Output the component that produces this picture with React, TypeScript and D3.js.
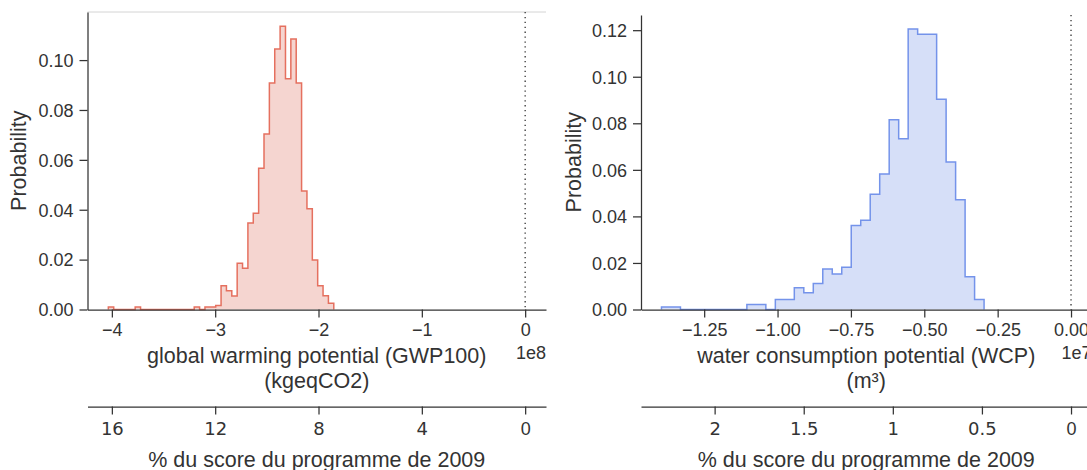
import React, { useEffect, useRef } from 'react';
import * as d3 from 'd3';

// ---- data (probability per bin) ----
const gwpBinStart = -4.034; // x 1e8 kgeqCO2
const gwpBinWidth = 0.05195;
const gwpProb = [
  0.001, 0, 0, 0, 0, 0.001, 0, 0, 0, 0, 0, 0, 0, 0, 0, 0, 0.001, 0,
  0.001, 0.001, 0.0016, 0.0095, 0.0075, 0.0054, 0.0185, 0.0165, 0.0347, 0.0386,
  0.0566, 0.0704, 0.0908, 0.1044, 0.1136, 0.0925, 0.1085, 0.0908, 0.0475, 0.0404,
  0.0198, 0.0095, 0.0055, 0.0025,
];
const gwpTicksY = [0, 0.02, 0.04, 0.06, 0.08, 0.1];
const gwpTicksX = [-4, -3, -2, -1, 0];
const gwpPctTicks = [16, 12, 8, 4, 0];
const gwpRef2009 = 25; // 1e8 units, 100 %

const wcpBinStart = -1.3955; // x 1e7 m3
const wcpBinWidth = 0.03233;
const wcpProb = [
  0.0011, 0.0011, 0, 0, 0, 0, 0, 0, 0, 0.0022, 0.0022, 0, 0.0043, 0.0043, 0.0093,
  0.0072, 0.0112, 0.0174, 0.0152, 0.0182, 0.0361, 0.0383, 0.0495, 0.0582, 0.0815,
  0.0734, 0.1205, 0.1183, 0.1183, 0.0903, 0.0634, 0.0472, 0.0141, 0.0043,
];
const wcpTicksY = [0, 0.02, 0.04, 0.06, 0.08, 0.1, 0.12];
const wcpTicksX = [-1.25, -1.0, -0.75, -0.5, -0.25, 0];
const wcpPctTicks = [2, 1.5, 1, 0.5, 0];
const wcpRef2009 = 60.72; // 1e7 units, 100 %

const SANS = '"Liberation Sans", Arial, sans-serif';
const DEJA = '"DejaVu Sans", sans-serif';
const INK = '#333333';

interface PanelCfg {
  binStart: number;
  binWidth: number;
  prob: number[];
  ticksY: number[];
  ticksX: number[];
  pctTicks: number[];
  ref: number;
  x0: number;
  x1: number;
  yTop: number;
  offset: string;
  xFmt: (v: number) => string;
  yFmt: (v: number) => string;
  pctFmt: (v: number) => string;
  label1: string;
  label2: string;
  ylabX: number;
  stroke: string;
  fill: string;
  topLine: boolean;
}

function drawPanel(svg: d3.Selection<SVGSVGElement, unknown, null, undefined>, c: PanelCfg) {
  const base = 309.5;
  const lo = Math.min(c.binStart, 0);
  const pad = 0.05 * (0 - lo);
  const x = d3.scaleLinear().domain([lo - pad, pad]).range([c.x0, c.x1]);
  const ymax = (d3.max(c.prob) as number) * 1.05;
  const y = d3.scaleLinear().domain([0, ymax]).range([base, c.yTop]);
  const g = svg.append('g');

  if (c.topLine) {
    g.append('line').attr('x1', c.x0).attr('x2', c.x1).attr('y1', c.yTop).attr('y2', c.yTop)
      .attr('stroke', '#d4d4d4').attr('stroke-width', 1);
  }

  // histogram step path
  const pts: [number, number][] = [];
  const edges = c.prob.map((_, i) => c.binStart + i * c.binWidth);
  pts.push([x(edges[0]), y(0)]);
  c.prob.forEach((p, i) => {
    pts.push([x(edges[i]), y(p)]);
    pts.push([x(edges[i] + c.binWidth), y(p)]);
  });
  pts.push([x(c.binStart + c.prob.length * c.binWidth), y(0)]);
  const line = d3.line();
  g.append('path').attr('d', line(pts) + 'Z').attr('fill', c.fill).attr('stroke', 'none');
  g.append('path').attr('d', line(pts) as string).attr('fill', 'none').attr('stroke', c.stroke)
    .attr('stroke-width', 1.5).attr('stroke-linejoin', 'miter');

  // dotted zero line
  g.append('line').attr('x1', x(0)).attr('x2', x(0)).attr('y1', c.yTop).attr('y2', base)
    .attr('stroke', INK).attr('stroke-width', 1.3).attr('stroke-dasharray', '1.3,3.6');

  // y axis
  const ya = g.append('g').attr('transform', `translate(${c.x0},0)`)
    .call(d3.axisLeft(y).tickValues(c.ticksY).tickFormat((d) => c.yFmt(d as number)).tickSize(8).tickPadding(6).tickSizeOuter(0));
  // x axis
  const xa = g.append('g').attr('transform', `translate(0,${base})`)
    .call(d3.axisBottom(x).tickValues(c.ticksX).tickFormat((d) => c.xFmt(d as number)).tickSize(8).tickPadding(6).tickSizeOuter(0));
  // secondary % axis
  const pct = d3.scaleLinear().domain([-(lo - pad) / c.ref * 100, -pad / c.ref * 100]).range([c.x0, c.x1]);
  const pa = g.append('g').attr('transform', 'translate(0,406.5)')
    .call(d3.axisBottom(pct).tickValues(c.pctTicks).tickFormat((d) => c.pctFmt(d as number)).tickSize(8).tickPadding(8).tickSizeOuter(0));

  [ya, xa, pa].forEach((a) => {
    a.select('.domain').attr('stroke', INK).attr('stroke-width', 1.25);
    a.selectAll('.tick line').attr('stroke', INK).attr('stroke-width', 1.25);
    a.selectAll('.tick text').attr('fill', INK).style('font-family', SANS).style('font-size', '18px');
  });
  ya.selectAll('.tick text').attr('dy', '0.35em');
  pa.selectAll('.tick text').style('font-family', DEJA).style('font-size', '18px');
  pa.selectAll('.tick text').filter((d) => (d as number) === 0).style('font-family', SANS).style('font-size', '18px');

  // offset text
  g.append('text').attr('x', c.x1).attr('y', 359).attr('text-anchor', 'end').attr('fill', INK)
    .style('font-family', SANS).style('font-size', '18px').text(c.offset);

  const cx = (c.x0 + c.x1) / 2;
  const lab = (t: string, yy: number) =>
    g.append('text').attr('x', cx).attr('y', yy).attr('text-anchor', 'middle').attr('fill', INK)
      .style('font-family', SANS).style('font-size', '21.5px').text(t);
  lab(c.label1, 362.5);
  lab(c.label2, 387.5);
  lab('% du score du programme de 2009', 466.5);

  g.append('text').attr('transform', `translate(${c.ylabX},${(c.yTop + base) / 2}) rotate(-90)`)
    .attr('text-anchor', 'middle').attr('fill', INK)
    .style('font-family', SANS).style('font-size', '21.5px').text('Probability');
}

export default function App() {
  const ref = useRef<SVGSVGElement>(null);
  useEffect(() => {
    const svg = d3.select(ref.current as SVGSVGElement);
    svg.selectAll('*').remove();
    const num = (v: number) => (v < 0 ? '\u2212' + Math.abs(v) : String(v));
    drawPanel(svg, {
      binStart: gwpBinStart, binWidth: gwpBinWidth, prob: gwpProb,
      ticksY: gwpTicksY, ticksX: gwpTicksX, pctTicks: gwpPctTicks, ref: gwpRef2009,
      x0: 87.5, x1: 546, yTop: 12, offset: '1e8',
      xFmt: (v) => num(v), yFmt: (v) => v.toFixed(2), pctFmt: (v) => String(v),
      label1: 'global warming potential (GWP100)', label2: '(kgeqCO2)', ylabX: 26,
      stroke: '#e5705f', fill: '#f5d5d0', topLine: true,
    });
    drawPanel(svg, {
      binStart: wcpBinStart, binWidth: wcpBinWidth, prob: wcpProb,
      ticksY: wcpTicksY, ticksX: wcpTicksX, pctTicks: wcpPctTicks, ref: wcpRef2009,
      x0: 641, x1: 1091.5, yTop: 15, offset: '1e7',
      xFmt: (v) => (v < 0 ? '\u2212' + Math.abs(v).toFixed(2) : v.toFixed(2)), yFmt: (v) => v.toFixed(2),
      pctFmt: (v) => String(v),
      label1: 'water consumption potential (WCP)', label2: '(m\u00b3)', ylabX: 581,
      stroke: '#7493ea', fill: '#d6dff8', topLine: false,
    });
  }, []);
  return (
    <svg ref={ref} width={1087} height={470}
      style={{ position: 'absolute', left: 0, top: 0, background: '#ffffff', overflow: 'hidden' }} />
  );
}
